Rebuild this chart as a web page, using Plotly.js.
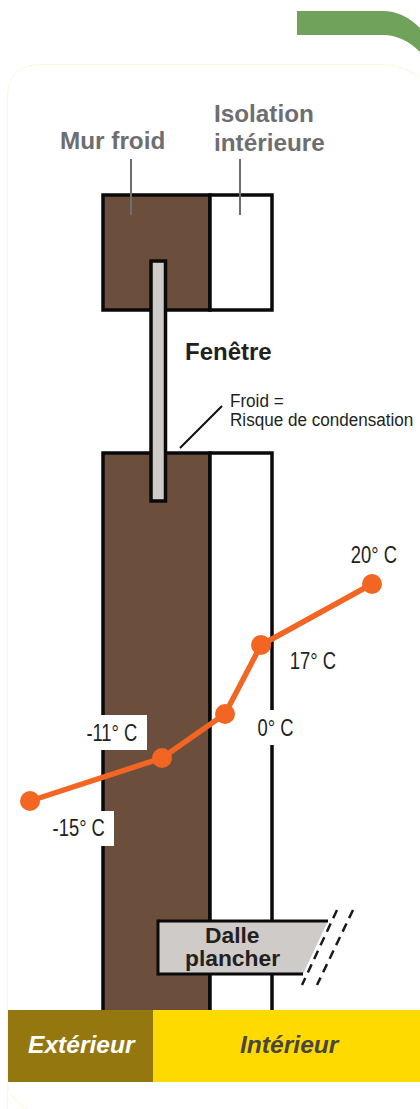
<!DOCTYPE html>
<html>
<head>
<meta charset="utf-8">
<script src="https://cdn.plot.ly/plotly-3.0.1.min.js"></script>
<style>html,body{margin:0;padding:0;background:#fff;overflow:hidden}</style>
</head>
<body>
<div id="chart" style="width:420px;height:1109px"></div>
<script>
// Diagram readings, in picture units: position across the wall and height on the page
const pointLabels = ["-15° C", "-11° C", "0° C", "17° C", "20° C"];
const pointX = [30, 162, 225, 261, 372];
const pointY = [801, 758, 714, 645, 584];

const wallLeft = 103, wallSplit = 210, wallRight = 272;
const upperWall = [195, 310];
const lowerWall = [453, 1016];
const windowBox = [151, 165.5, 261, 501];
const footerSplit = [8, 153, 420];
const footerY = [1010, 1082];
const slabX = [158, 328, 303];
const slabY = [921, 974];
const breakLines = [[337, 910, 302, 985], [353, 910, 317, 985]];
const labelBoxes = [[85, 147, 715, 750], [50, 114, 811, 846], [246, 300, 710, 745]];
const noteLines = ["Froid =", "Risque de condensation"];

const BROWN = "#6b4f3c", BLACK = "#0a0a0a", GREY = "#cfcbc8", ORANGE = "#f26522", TXT = "#231f20", MUTED = "#6d6e71";
const SANS = '"Liberation Sans",Arial,sans-serif';

function rect(x0, x1, y0, y1, fill, w, col) {
  return {type: "rect", layer: "below", x0, x1, y0, y1, fillcolor: fill || "rgba(0,0,0,0)",
          line: {width: w || 0, color: col || BLACK}};
}
function seg(x0, y0, x1, y1, col, w, dash) {
  return {type: "line", layer: "below", x0, y0, x1, y1, line: {color: col, width: w, dash: dash || "solid"}};
}
function path(d, fill, w, col) {
  return {type: "path", layer: "below", path: d, fillcolor: fill || "rgba(0,0,0,0)",
          line: {width: w || 0, color: col || BLACK}};
}

const shapes = [
  // faint card outline
  path("M 7.5 1120 L 7.5 98 Q 7.5 64.5 41 64.5 L 385 64.5 Q 405 64.5 425 82", null, 1, "#fcf7d6"),
  path("M 7.5 1082 Q 7.5 1100 32 1112", null, 1, "#fcf7d6"),
  // green tab
  path("M 297 11 L 383 11 Q 403 11 420 28 L 420 52 Q 403 35 383 35 L 297 35 Z", "#70a25c", 0),
  // upper wall
  rect(wallLeft, wallSplit, upperWall[0], upperWall[1], BROWN, 3.5),
  rect(wallSplit, wallRight, upperWall[0], upperWall[1], "#ffffff", 3.5),
  // lower wall
  rect(wallLeft, wallSplit, lowerWall[0], lowerWall[1], BROWN, 3.5),
  rect(wallSplit, wallRight, lowerWall[0], lowerWall[1], "#ffffff", 3.5),
  // window
  rect(windowBox[0], windowBox[1], windowBox[2], windowBox[3], GREY, 3.5),
  // leaders
  seg(131, 159, 131, 215, MUTED, 2),
  seg(240, 159, 240, 215, MUTED, 2),
  seg(180, 448, 222, 406, BLACK, 2),
  // floor slab
  path(`M ${slabX[1]} ${slabY[0]} L ${slabX[2]} ${slabY[1]} L ${slabX[0]} ${slabY[1]} L ${slabX[0]} ${slabY[0]} Z`, GREY, 0),
  seg(slabX[1], slabY[0], slabX[0], slabY[0], BLACK, 3),
  seg(slabX[0], slabY[0] - 1.5, slabX[0], slabY[1] + 1.5, BLACK, 3),
  seg(slabX[0], slabY[1], slabX[2], slabY[1], BLACK, 3),
  // break marks
  ...breakLines.map(b => seg(b[0], b[1], b[2], b[3], "#1a1a1a", 2.5, "9px,6px")),
  // label backgrounds
  ...labelBoxes.map(b => rect(b[0], b[1], b[2], b[3], "#ffffff", 0)),
  // footer band
  rect(footerSplit[0], footerSplit[1], footerY[0], footerY[1], "#95770f", 0),
  rect(footerSplit[1], footerSplit[2], footerY[0], footerY[1], "#ffda00", 0)
];

function note(text, x, y, size, color, xanchor) {
  return {text, x, y, xref: "x", yref: "y", showarrow: false, xanchor: xanchor || "center",
    yanchor: "middle", align: xanchor || "center", font: {size, color, family: SANS}};
}
const bold = s => `<b>${s}</b>`;
const boldItalic = s => `<b><i>${s}</i></b>`;

const annotations = [
  note(bold("Mur froid"), 112, 140, 24.3, MUTED),
  note(bold("Isolation"), 211.5, 113, 24.3, MUTED, "left"),
  note(bold("intérieure"), 211.5, 142, 24.3, MUTED, "left"),
  note(bold("Fenêtre"), 182.5, 351, 24, TXT, "left"),
  note(noteLines[0], 228, 400.5, 19, TXT, "left"),
  note(noteLines[1], 228, 419.5, 19, TXT, "left"),
  note(pointLabels[4], 374, 555, 23, TXT),
  note(pointLabels[3], 313, 661, 23, TXT),
  note(pointLabels[2], 275, 728, 23, TXT),
  note(pointLabels[1], 112, 733, 23, TXT),
  note(pointLabels[0], 78.5, 828, 23, TXT),
  note(bold("Dalle"), 232, 935, 22.8, TXT),
  note(bold("plancher"), 232, 958, 22.8, TXT),
  note(boldItalic("Extérieur"), 81.5, 1044, 24.6, "#ffffff"),
  note(boldItalic("Intérieur"), 290, 1044, 24.6, "#4a4542")
];

const traces = [{
  type: "scatter", mode: "lines+markers", x: pointX, y: pointY, text: pointLabels,
  hoverinfo: "text", line: {color: ORANGE, width: 5.5}, marker: {color: ORANGE, size: 20}, showlegend: false
}];

const axis = {visible: false, fixedrange: true, showgrid: false, zeroline: false};
const layout = {
  width: 420, height: 1109, margin: {l: 0, r: 0, t: 0, b: 0, pad: 0},
  paper_bgcolor: "#ffffff", plot_bgcolor: "#ffffff", showlegend: false,
  xaxis: Object.assign({range: [0, 420]}, axis),
  yaxis: Object.assign({range: [1109, 0]}, axis),
  shapes, annotations
};
Plotly.newPlot("chart", traces, layout, {displayModeBar: false}).then(() => {
  // The reference sets its light labels in a condensed face: squeeze those lines horizontally.
  const squeeze = new Map([...pointLabels.map(t => [t, 0.8]), ...noteLines.map(t => [t, 0.9])]);
  document.querySelectorAll("#chart text.annotation-text").forEach(el => {
    const k = squeeze.get(el.textContent);
    if (k) {
      const b = el.getBBox();
      const ox = noteLines.includes(el.textContent) ? b.x : b.x + b.width / 2;
      el.setAttribute("transform", `translate(${ox} 0) scale(${k} 1) translate(${-ox} 0)`);
    }
  });
});
</script>
</body>
</html>
